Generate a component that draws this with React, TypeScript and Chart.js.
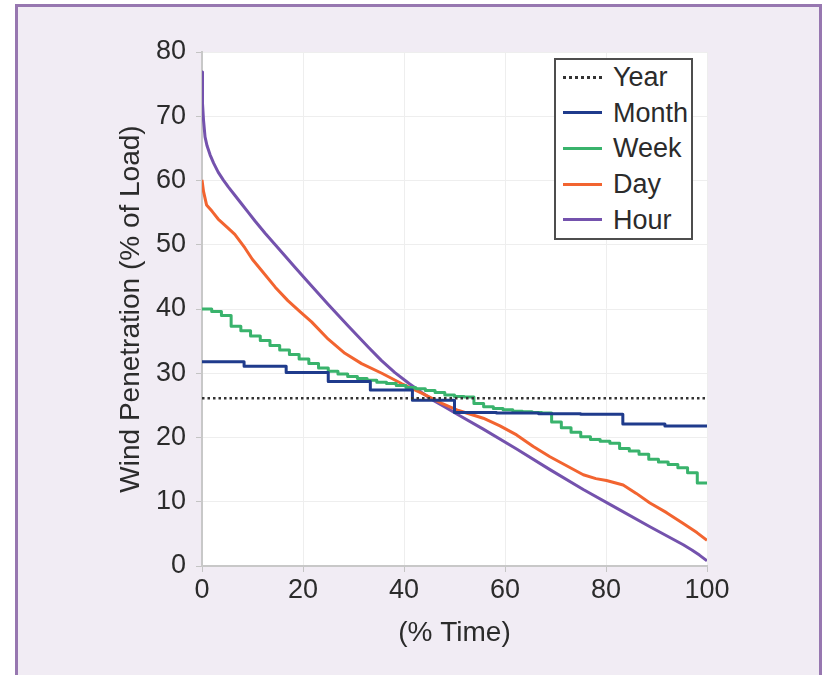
import React, { useEffect, useRef } from "react";
import { Chart, registerables } from "chart.js";

Chart.register(...registerables);

const FONT = '"Liberation Sans", Arial, Helvetica, sans-serif';
const TEXT = "#2b2b2b";

// ---- data ----
const seriesNames = ["Year", "Month", "Week", "Day", "Hour"];
const seriesColors = ["#333333", "#1f3b8c", "#39b36c", "#f26430", "#7452ad"];

const yearX = [0, 100];
const yearY = [26.1, 26.1];

// monthly steps (12 equal periods)
const monthValues = [31.8, 31.1, 30.1, 28.7, 27.4, 25.8, 23.9, 23.8, 23.7, 23.6, 22.1, 21.8];

// weekly steps (52 equal periods)
const weekValues = [
  40.0, 39.6, 39.0, 37.3, 36.6, 35.8, 35.1, 34.3, 33.6, 32.9,
  32.2, 31.5, 30.8, 30.3, 29.9, 29.5, 29.2, 28.9, 28.6, 28.4,
  28.1, 27.8, 27.6, 27.3, 27.0, 26.6, 26.4, 26.3, 25.3, 24.8,
  24.5, 24.3, 24.1, 24.0, 23.9, 23.8, 22.4, 21.5, 20.8, 20.1,
  19.7, 19.4, 19.1, 18.3, 17.9, 17.4, 16.6, 16.2, 15.8, 15.3,
  14.5, 12.9,
];

const dayX = [0, 0.3, 0.9, 2, 3.2, 5, 6.5, 8.5, 10, 11.8, 14.5, 17, 19.4, 21.7, 25, 28.3, 31.6, 35.6, 39.5, 43.5, 47.5, 50.8, 55.7, 59, 62.3, 65.6, 68.9, 72.2, 75.5, 78, 80.1, 83.4, 86, 88.7, 92, 95.3, 98, 100];
const dayY = [60.1, 58.3, 56.2, 55.2, 54.0, 52.7, 51.6, 49.5, 47.7, 46.0, 43.4, 41.3, 39.6, 38.0, 35.3, 33.1, 31.5, 30.0, 28.4, 26.9, 25.3, 24.2, 23.0, 21.8, 20.4, 18.6, 17.0, 15.6, 14.2, 13.6, 13.3, 12.6, 11.3, 9.8, 8.3, 6.6, 5.2, 4.0];

const hourX = [0, 0.1, 0.3, 0.6, 1.0, 1.6, 2.3, 3.2, 4.2, 5.2, 6.5, 7.9, 9.2, 10.5, 12.5, 14.5, 16.5, 18.4, 21, 25, 29, 33, 35.5, 38.2, 41, 43.5, 46, 48, 50.8, 55.7, 62.3, 68.9, 75.5, 82.1, 88.7, 95.3, 97, 98.5, 100];
const hourY = [76.9, 72.0, 69.4, 66.8, 65.4, 64.0, 62.7, 61.3, 60.1, 59.0, 57.7, 56.3, 55.0, 53.7, 51.8, 50.0, 48.2, 46.5, 44.2, 40.7, 37.3, 34.0, 32.0, 30.1, 28.4, 27.0, 25.7, 24.8, 23.5, 21.3, 18.2, 15.0, 11.9, 9.0, 6.1, 3.3, 2.5, 1.7, 0.8];

const xMin = 0, xMax = 100, xStep = 20;
const yMin = 0, yMax = 80, yStep = 10;

const xTitle = "(% Time)";
const yTitle = "Wind Penetration (% of Load)";

function pairs(xs: number[], ys: number[]) {
  return xs.map((x, i) => ({ x, y: ys[i] }));
}

function stepPoints(values: number[]) {
  const n = values.length;
  const pts = values.map((v, i) => ({ x: (i * 100) / n, y: v }));
  pts.push({ x: 100, y: values[n - 1] });
  return pts;
}

const plotBg = {
  id: "plotBg",
  beforeDraw(chart: any) {
    const { ctx, chartArea } = chart;
    if (!chartArea) return;
    ctx.save();
    ctx.fillStyle = "#ffffff";
    ctx.fillRect(chartArea.left, chartArea.top, chartArea.right - chartArea.left, chartArea.bottom - chartArea.top);
    ctx.restore();
  },
};

export default function App() {
  const ref = useRef<HTMLCanvasElement | null>(null);

  useEffect(() => {
    if (!ref.current) return;
    const datasets: any[] = [
      {
        label: seriesNames[0],
        data: pairs(yearX, yearY),
        borderColor: seriesColors[0],
        borderWidth: 2.5,
        borderDash: [2.5, 3],
      },
      {
        label: seriesNames[1],
        data: stepPoints(monthValues),
        borderColor: seriesColors[1],
        borderWidth: 3,
        stepped: true,
      },
      {
        label: seriesNames[2],
        data: stepPoints(weekValues),
        borderColor: seriesColors[2],
        borderWidth: 3,
        stepped: true,
      },
      {
        label: seriesNames[3],
        data: pairs(dayX, dayY),
        borderColor: seriesColors[3],
        borderWidth: 3,
      },
      {
        label: seriesNames[4],
        data: pairs(hourX, hourY),
        borderColor: seriesColors[4],
        borderWidth: 3,
      },
    ];

    const chart = new Chart(ref.current, {
      type: "line",
      data: { datasets },
      plugins: [plotBg],
      options: {
        animation: false,
        responsive: false,
        devicePixelRatio: 1,
        layout: { padding: { left: 0, top: 52, right: 118, bottom: 0 } },
        elements: {
          point: { radius: 0 },
          line: { tension: 0, fill: false, borderJoinStyle: "round" },
        },
        plugins: {
          legend: { display: false },
          tooltip: { enabled: false },
        },
        scales: {
          x: {
            type: "linear",
            min: xMin,
            max: xMax,
            ticks: {
              stepSize: xStep,
              color: TEXT,
              font: { family: FONT, size: 27 },
              padding: 2,
              maxRotation: 0,
            },
            grid: { color: "#eeeeee", tickLength: 6, tickColor: "#c4c4c4", lineWidth: 1 },
            border: { color: "#c8c8c8", width: 2 },
            title: {
              display: true,
              text: xTitle,
              color: TEXT,
              font: { family: FONT, size: 28 },
              padding: { top: 0, bottom: 25 },
            },
            afterFit: (s: any) => {
              s.height = 109;
            },
          },
          y: {
            type: "linear",
            min: yMin,
            max: yMax,
            ticks: {
              stepSize: yStep,
              color: TEXT,
              font: { family: FONT, size: 27 },
              padding: 10,
            },
            grid: { color: "#eeeeee", tickLength: 6, tickColor: "#c4c4c4", lineWidth: 1 },
            border: { color: "#c8c8c8", width: 2 },
            title: {
              display: true,
              text: yTitle,
              color: TEXT,
              font: { family: FONT, size: 28 },
              padding: { top: 114, bottom: 0 },
            },
            afterFit: (s: any) => {
              s.width = 202;
            },
          },
        },
      } as any,
    });
    return () => chart.destroy();
  }, []);

  const rowCenters = [77, 112.5, 148, 184, 219.5];
  const legendTop = 58;

  return (
    <div>
      <div
        style={{
          position: "fixed",
          left: 15,
          top: 4,
          width: 807,
          height: 700,
          boxSizing: "border-box",
          border: "3px solid #9777b0",
          background: "#f1ecf4",
        }}
      />
      <canvas
        ref={ref}
        width={825}
        height={675}
        style={{ position: "fixed", left: 0, top: 0, width: 825, height: 675 }}
      />
      <div
        style={{
          position: "fixed",
          left: 554,
          top: legendTop,
          width: 139,
          height: 182,
          boxSizing: "border-box",
          border: "2px solid #4d4d4d",
          background: "#ffffff",
        }}
      >
        {seriesNames.map((name, i) => (
          <div
            key={name}
            style={{
              position: "absolute",
              left: 0,
              top: rowCenters[i] - legendTop - 2 - 18,
              height: 36,
              display: "flex",
              alignItems: "center",
            }}
          >
            <div
              style={{
                marginLeft: 7,
                width: 39,
                height: 0,
                borderTop: i === 0 ? `3px dotted ${seriesColors[i]}` : `3px solid ${seriesColors[i]}`,
              }}
            />
            <span
              style={{
                marginLeft: 11,
                fontFamily: FONT,
                fontSize: 27,
                color: TEXT,
                lineHeight: "36px",
              }}
            >
              {name}
            </span>
          </div>
        ))}
      </div>
    </div>
  );
}
